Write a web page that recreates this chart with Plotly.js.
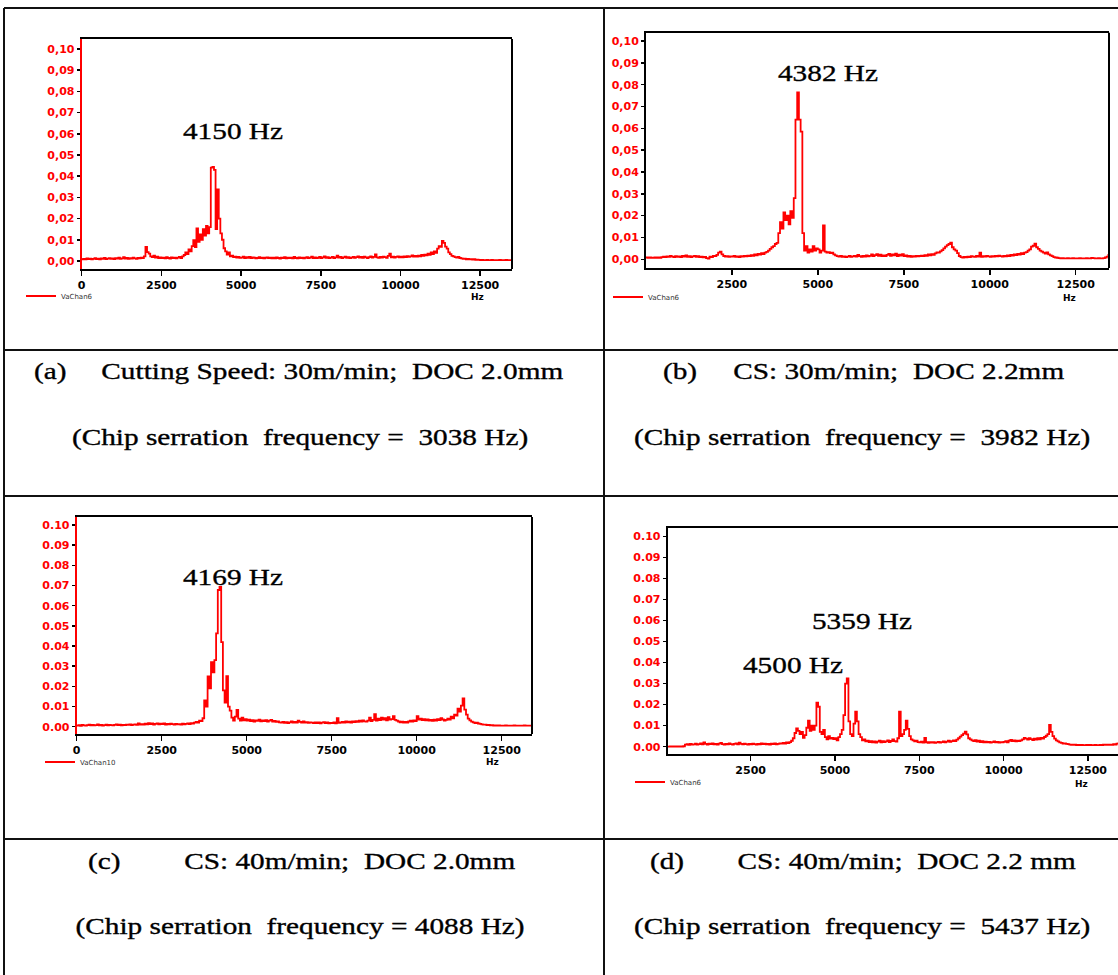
<!DOCTYPE html>
<html>
<head>
<meta charset="utf-8">
<script src="https://cdn.plot.ly/plotly-3.0.1.min.js"></script>
<style>
  html, body { margin: 0; padding: 0; background: #fff; overflow: hidden; }
  #fig { width: 1140px; height: 975px; }
</style>
</head>
<body>
<div id="fig"></div>
<script>
// ---- spectrum data: amplitude per 50 Hz bin, 0 ... 13500 Hz ----
const binHz = 50;

const ampA = [
  0.0008,0.0010,0.0007,0.0012,0.0009,0.0011,0.0008,0.0010,0.0013,0.0009,
  0.0011,0.0008,0.0012,0.0010,0.0014,0.0009,0.0011,0.0013,0.0010,0.0012,
  0.0009,0.0013,0.0011,0.0015,0.0010,0.0012,0.0018,0.0011,0.0014,0.0010,
  0.0013,0.0011,0.0016,0.0012,0.0010,0.0014,0.0012,0.0015,0.0013,0.0022,
  0.0066,0.0042,0.0035,0.0022,0.0018,0.0025,0.0016,0.0020,0.0014,0.0017,
  0.0013,0.0016,0.0012,0.0018,0.0014,0.0011,0.0017,0.0013,0.0015,0.0012,
  0.0016,0.0019,0.0014,0.0022,0.0028,0.0040,0.0032,0.0055,0.0045,0.0070,
  0.0098,0.0065,0.0153,0.0090,0.0125,0.0100,0.0150,0.0120,0.0165,0.0130,
  0.0160,0.0440,0.0444,0.0430,0.0150,0.0337,0.0200,0.0130,0.0100,0.0060,
  0.0045,0.0030,0.0040,0.0022,0.0025,0.0018,0.0020,0.0016,0.0019,0.0015,
  0.0016,0.0020,0.0014,0.0018,0.0015,0.0019,0.0013,0.0017,0.0015,0.0012,
  0.0014,0.0018,0.0013,0.0016,0.0012,0.0015,0.0017,0.0013,0.0016,0.0012,
  0.0015,0.0012,0.0017,0.0014,0.0011,0.0016,0.0013,0.0018,0.0012,0.0015,
  0.0013,0.0016,0.0012,0.0019,0.0014,0.0012,0.0017,0.0013,0.0016,0.0012,
  0.0015,0.0018,0.0013,0.0016,0.0020,0.0014,0.0017,0.0013,0.0015,0.0019,
  0.0014,0.0017,0.0021,0.0015,0.0018,0.0013,0.0016,0.0019,0.0014,0.0017,
  0.0025,0.0016,0.0019,0.0014,0.0017,0.0020,0.0015,0.0018,0.0014,0.0016,
  0.0019,0.0015,0.0018,0.0022,0.0016,0.0019,0.0015,0.0020,0.0017,0.0014,
  0.0018,0.0021,0.0016,0.0019,0.0031,0.0017,0.0015,0.0019,0.0016,0.0020,
  0.0018,0.0015,0.0024,0.0034,0.0017,0.0020,0.0016,0.0019,0.0022,0.0017,
  0.0020,0.0017,0.0021,0.0018,0.0023,0.0019,0.0022,0.0026,0.0020,0.0024,
  0.0021,0.0025,0.0022,0.0028,0.0024,0.0030,0.0026,0.0035,0.0029,0.0040,
  0.0032,0.0045,0.0038,0.0058,0.0070,0.0066,0.0094,0.0085,0.0068,0.0058,
  0.0040,0.0032,0.0024,0.0022,0.0018,0.0016,0.0019,0.0014,0.0012,0.0010,
  0.0011,0.0008,0.0010,0.0007,0.0009,0.0006,0.0008,0.0005,0.0006,0.0005,
  0.0004,0.0005,0.0004,0.0004,0.0005,0.0004,0.0004,0.0005,0.0004,0.0004,
  0.0004,0.0004,0.0005,0.0004,0.0004,0.0004,0.0005,0.0004,0.0004,0.0004,
  0.0004
];

const ampB = [
  0.0008,0.0007,0.0008,0.0006,0.0007,0.0008,0.0007,0.0009,0.0006,0.0010,
  0.0012,0.0010,0.0013,0.0011,0.0015,0.0012,0.0010,0.0014,0.0011,0.0013,
  0.0010,0.0015,0.0012,0.0018,0.0011,0.0014,0.0010,0.0013,0.0016,0.0011,
  0.0014,0.0010,0.0012,0.0009,0.0011,0.0005,0.0003,0.0012,0.0010,0.0015,
  0.0014,0.0020,0.0030,0.0035,0.0022,0.0015,0.0012,0.0014,0.0011,0.0013,
  0.0012,0.0015,0.0011,0.0013,0.0010,0.0014,0.0012,0.0016,0.0013,0.0017,
  0.0015,0.0019,0.0016,0.0022,0.0018,0.0025,0.0021,0.0028,0.0024,0.0030,
  0.0034,0.0040,0.0048,0.0055,0.0060,0.0070,0.0075,0.0120,0.0170,0.0140,
  0.0215,0.0180,0.0200,0.0160,0.0220,0.0190,0.0280,0.0640,0.0765,0.0640,
  0.0585,0.0120,0.0040,0.0060,0.0030,0.0045,0.0035,0.0060,0.0040,0.0050,
  0.0045,0.0030,0.0040,0.0155,0.0035,0.0030,0.0033,0.0028,0.0030,0.0022,
  0.0018,0.0014,0.0012,0.0015,0.0011,0.0013,0.0010,0.0012,0.0015,0.0011,
  0.0013,0.0016,0.0012,0.0020,0.0014,0.0011,0.0015,0.0012,0.0018,0.0013,
  0.0016,0.0022,0.0015,0.0019,0.0024,0.0016,0.0021,0.0015,0.0018,0.0014,
  0.0020,0.0025,0.0016,0.0022,0.0018,0.0026,0.0015,0.0021,0.0017,0.0023,
  0.0014,0.0018,0.0012,0.0015,0.0011,0.0014,0.0012,0.0016,0.0013,0.0015,
  0.0017,0.0014,0.0019,0.0016,0.0022,0.0018,0.0024,0.0020,0.0027,0.0032,
  0.0030,0.0036,0.0042,0.0050,0.0058,0.0065,0.0070,0.0076,0.0055,0.0045,
  0.0040,0.0028,0.0015,0.0010,0.0008,0.0011,0.0009,0.0012,0.0010,0.0014,
  0.0012,0.0011,0.0015,0.0012,0.0030,0.0011,0.0014,0.0012,0.0015,0.0013,
  0.0011,0.0014,0.0012,0.0016,0.0013,0.0017,0.0014,0.0012,0.0016,0.0013,
  0.0018,0.0015,0.0020,0.0017,0.0022,0.0019,0.0025,0.0021,0.0028,0.0024,
  0.0030,0.0033,0.0040,0.0045,0.0058,0.0062,0.0072,0.0055,0.0048,0.0040,
  0.0035,0.0030,0.0026,0.0032,0.0022,0.0018,0.0014,0.0010,0.0008,0.0007,
  0.0005,0.0004,0.0005,0.0004,0.0004,0.0005,0.0004,0.0004,0.0005,0.0004,
  0.0004,0.0004,0.0005,0.0004,0.0004,0.0004,0.0005,0.0004,0.0004,0.0006,
  0.0005,0.0004,0.0004,0.0005,0.0004,0.0004,0.0005,0.0008,0.0012,0.0020,
  0.0018
];

const ampC = [
  0.0006,0.0008,0.0005,0.0009,0.0007,0.0006,0.0008,0.0010,0.0007,0.0009,
  0.0007,0.0008,0.0011,0.0007,0.0009,0.0006,0.0008,0.0010,0.0007,0.0009,
  0.0008,0.0007,0.0009,0.0012,0.0008,0.0010,0.0007,0.0009,0.0008,0.0010,
  0.0009,0.0011,0.0008,0.0010,0.0012,0.0009,0.0016,0.0011,0.0013,0.0010,
  0.0015,0.0012,0.0018,0.0013,0.0016,0.0011,0.0014,0.0017,0.0012,0.0015,
  0.0013,0.0016,0.0011,0.0014,0.0012,0.0015,0.0013,0.0011,0.0014,0.0012,
  0.0013,0.0011,0.0015,0.0012,0.0014,0.0016,0.0013,0.0018,0.0015,0.0020,
  0.0024,0.0020,0.0030,0.0028,0.0042,0.0130,0.0100,0.0250,0.0190,0.0320,
  0.0270,0.0330,0.0463,0.0678,0.0694,0.0420,0.0180,0.0120,0.0251,0.0100,
  0.0080,0.0045,0.0030,0.0050,0.0083,0.0040,0.0030,0.0045,0.0032,0.0038,
  0.0030,0.0035,0.0028,0.0033,0.0026,0.0032,0.0029,0.0035,0.0027,0.0031,
  0.0028,0.0033,0.0025,0.0030,0.0034,0.0026,0.0029,0.0024,0.0027,0.0022,
  0.0020,0.0024,0.0019,0.0023,0.0018,0.0022,0.0026,0.0020,0.0024,0.0021,
  0.0030,0.0024,0.0021,0.0026,0.0020,0.0023,0.0019,0.0022,0.0020,0.0018,
  0.0021,0.0018,0.0022,0.0017,0.0020,0.0023,0.0018,0.0021,0.0017,0.0019,
  0.0018,0.0022,0.0017,0.0042,0.0019,0.0021,0.0024,0.0020,0.0026,0.0022,
  0.0025,0.0021,0.0027,0.0023,0.0028,0.0024,0.0030,0.0026,0.0032,0.0027,
  0.0025,0.0030,0.0045,0.0028,0.0034,0.0062,0.0030,0.0040,0.0033,0.0045,
  0.0036,0.0042,0.0032,0.0048,0.0035,0.0038,0.0052,0.0034,0.0030,0.0026,
  0.0022,0.0025,0.0020,0.0024,0.0021,0.0026,0.0030,0.0025,0.0032,0.0028,
  0.0053,0.0035,0.0040,0.0033,0.0038,0.0032,0.0036,0.0030,0.0034,0.0029,
  0.0035,0.0031,0.0038,0.0033,0.0042,0.0036,0.0030,0.0034,0.0040,0.0036,
  0.0050,0.0042,0.0060,0.0055,0.0090,0.0075,0.0105,0.0140,0.0085,0.0060,
  0.0040,0.0032,0.0025,0.0022,0.0018,0.0020,0.0016,0.0014,0.0012,0.0010,
  0.0010,0.0008,0.0009,0.0007,0.0008,0.0006,0.0007,0.0006,0.0007,0.0006,
  0.0006,0.0006,0.0007,0.0006,0.0006,0.0006,0.0006,0.0007,0.0006,0.0006,
  0.0006,0.0006,0.0006,0.0007,0.0006,0.0006,0.0006,0.0006,0.0007,0.0006,
  0.0006
];

const ampD = [
  0.0000,0.0000,0.0001,0.0000,0.0001,0.0000,0.0001,0.0000,0.0001,0.0000,
  0.0002,0.0010,0.0012,0.0009,0.0013,0.0010,0.0011,0.0014,0.0010,0.0012,
  0.0015,0.0011,0.0020,0.0013,0.0010,0.0014,0.0012,0.0016,0.0011,0.0013,
  0.0010,0.0014,0.0018,0.0012,0.0010,0.0013,0.0011,0.0015,0.0012,0.0010,
  0.0013,0.0016,0.0011,0.0019,0.0013,0.0011,0.0014,0.0012,0.0010,0.0013,
  0.0011,0.0014,0.0012,0.0010,0.0013,0.0011,0.0015,0.0012,0.0014,0.0011,
  0.0013,0.0010,0.0014,0.0012,0.0015,0.0011,0.0013,0.0016,0.0014,0.0018,
  0.0015,0.0020,0.0017,0.0022,0.0028,0.0040,0.0065,0.0087,0.0075,0.0060,
  0.0070,0.0042,0.0055,0.0090,0.0124,0.0075,0.0100,0.0080,0.0100,0.0210,
  0.0190,0.0070,0.0060,0.0080,0.0045,0.0035,0.0050,0.0038,0.0042,0.0036,
  0.0040,0.0030,0.0045,0.0060,0.0080,0.0150,0.0300,0.0325,0.0120,0.0060,
  0.0050,0.0110,0.0167,0.0120,0.0060,0.0045,0.0030,0.0035,0.0025,0.0028,
  0.0022,0.0026,0.0020,0.0025,0.0019,0.0024,0.0028,0.0021,0.0026,0.0022,
  0.0025,0.0030,0.0022,0.0027,0.0035,0.0026,0.0024,0.0040,0.0167,0.0050,
  0.0060,0.0080,0.0124,0.0085,0.0050,0.0035,0.0030,0.0025,0.0028,0.0022,
  0.0020,0.0024,0.0019,0.0042,0.0021,0.0018,0.0022,0.0019,0.0021,0.0018,
  0.0020,0.0023,0.0019,0.0022,0.0025,0.0021,0.0024,0.0028,0.0023,0.0026,
  0.0030,0.0026,0.0033,0.0040,0.0048,0.0055,0.0062,0.0071,0.0058,0.0040,
  0.0035,0.0030,0.0026,0.0031,0.0024,0.0028,0.0022,0.0026,0.0021,0.0024,
  0.0020,0.0023,0.0019,0.0022,0.0025,0.0020,0.0023,0.0019,0.0022,0.0020,
  0.0023,0.0026,0.0021,0.0028,0.0032,0.0027,0.0030,0.0025,0.0029,0.0026,
  0.0030,0.0035,0.0042,0.0038,0.0033,0.0040,0.0036,0.0031,0.0038,0.0034,
  0.0040,0.0035,0.0042,0.0038,0.0046,0.0052,0.0060,0.0103,0.0070,0.0050,
  0.0038,0.0030,0.0025,0.0020,0.0018,0.0015,0.0016,0.0013,0.0012,0.0010,
  0.0009,0.0008,0.0009,0.0007,0.0008,0.0007,0.0008,0.0007,0.0007,0.0008,
  0.0007,0.0008,0.0007,0.0007,0.0008,0.0007,0.0007,0.0008,0.0007,0.0009,
  0.0008,0.0009,0.0008,0.0010,0.0009,0.0012,0.0010,0.0014,0.0016,0.0018,
  0.0020
];

// ---- tick labels ----
const yTickVals = [0, 0.01, 0.02, 0.03, 0.04, 0.05, 0.06, 0.07, 0.08, 0.09, 0.10];
const yTickComma = ['0,00','0,01','0,02','0,03','0,04','0,05','0,06','0,07','0,08','0,09','0,10'];
const yTickDot = ['0.00','0.01','0.02','0.03','0.04','0.05','0.06','0.07','0.08','0.09','0.10'];
const xTickVals = [0, 2500, 5000, 7500, 10000, 12500];
const xTickText = ['0', '2500', '5000', '7500', '10000', '12500'];

// ---- texts ----
const seriesNames = ['VaChan6', 'VaChan6', 'VaChan10', 'VaChan6'];
const peakLabels = [['4150 Hz'], ['4382 Hz'], ['4169 Hz'], ['5359 Hz', '4500 Hz']];
const panelTags = ['(a)', '(b)', '(c)', '(d)'];
const conditions = [
  'Cutting Speed: 30m/min;\u00a0 DOC 2.0mm',
  'CS: 30m/min;\u00a0 DOC 2.2mm',
  'CS: 40m/min;\u00a0 DOC 2.0mm',
  'CS: 40m/min;\u00a0 DOC 2.2 mm'
];
const serrationHz = ['3038', '3982', '4088', '5437'];
const serrationSep = [' =\u00a0 ', ' =\u00a0 ', ' = ', ' =\u00a0 '];

// ---- page geometry (pixels) ----
const W = 1140, H = 975;
const px = x => x / W;
const py = y => 1 - y / H;

const panels = [
  { xDom: [81.7, 512], yTop: 39, yBot: 269, xRange: [0, 13500], yRange: [-0.0038, 0.1047],
    yLine: '#ff0000', zeroTick: true, comma: true, leg: [21, 296], hz: [477, 297],
    peaks: [[233, 131]] },
  { xDom: [646, 1109], yTop: 32.7, yBot: 268, xRange: [3, 13468], yRange: [-0.004, 0.1038],
    yLine: '#000000', zeroTick: false, comma: true, leg: [608, 297], hz: [1069, 298],
    peaks: [[828, 73]] },
  { xDom: [76.7, 532], yTop: 517, yBot: 734, xRange: [0, 13391], yRange: [-0.0036, 0.104],
    yLine: '#ff0000', zeroTick: true, comma: false, leg: [40, 762], hz: [492, 762],
    peaks: [[233, 577]] },
  { xDom: [667.7, 1121.6], yTop: 528, yBot: 754, xRange: [40, 13500], yRange: [-0.0035, 0.1041],
    yLine: '#000000', zeroTick: false, comma: false, leg: [630, 782], hz: [1081, 784],
    peaks: [[862, 621], [793, 665]] }
];

// caption placement: [tag x, condition x, serration x], line y's per row
const captionX = [[50.5, 332.5, 300], [680, 898.5, 862], [104.5, 350, 300], [667, 907, 862]];
const captionY = [[371, 437], [371, 437], [861, 926], [861, 926]];

const tickFontBase = { family: 'DejaVu Sans', size: 11, weight: 'bold' };
const serif = { family: 'Liberation Serif', size: 24, color: '#000000' };

const traces = [];
const layout = {
  width: W, height: H,
  margin: { l: 0, r: 0, t: 0, b: 0 },
  paper_bgcolor: '#ffffff', plot_bgcolor: '#ffffff',
  showlegend: true,
  shapes: [], annotations: []
};

// centred text placed at a page pixel position
const label = (x, y, text, font) => ({
  xref: 'paper', yref: 'paper', x: px(x), y: py(y),
  xanchor: 'center', yanchor: 'middle', text: text, showarrow: false, font: font
});

const amps = [ampA, ampB, ampC, ampD];

panels.forEach((p, i) => {
  const n = i === 0 ? '' : String(i + 1);
  const amp = amps[i];
  const freq = amp.map((_, k) => k * binHz);
  const legendId = 'legend' + n;

  traces.push({
    x: freq, y: amp, type: 'scatter', mode: 'lines',
    name: seriesNames[i], legend: legendId, showlegend: true,
    xaxis: 'x' + n, yaxis: 'y' + n,
    line: { color: '#ff0000', width: 1.8, shape: 'hv' }
  });

  const xv = p.zeroTick ? xTickVals : xTickVals.slice(1);
  const xt = p.zeroTick ? xTickText : xTickText.slice(1);

  layout['xaxis' + n] = {
    domain: [px(p.xDom[0]), px(p.xDom[1])], range: p.xRange, anchor: 'y' + n,
    showline: true, linecolor: '#000', linewidth: 2, mirror: true,
    ticks: 'outside', ticklen: 5, tickwidth: 1.5, tickcolor: '#000',
    tickvals: xv, ticktext: xt,
    tickfont: Object.assign({ color: '#000' }, tickFontBase),
    showgrid: false, zeroline: false, fixedrange: true
  };
  layout['yaxis' + n] = {
    domain: [py(p.yBot), py(p.yTop)], range: p.yRange, anchor: 'x' + n,
    showline: true, linecolor: p.yLine, linewidth: 2, mirror: false,
    ticks: 'outside', ticklen: 3, tickwidth: 1.5, tickcolor: '#000',
    tickvals: yTickVals, ticktext: p.comma ? yTickComma : yTickDot,
    tickfont: Object.assign({ color: '#ff0000' }, tickFontBase),
    showgrid: false, zeroline: false, fixedrange: true
  };

  // right edge of the plot frame
  layout.shapes.push({
    type: 'line', xref: 'x' + n + ' domain', yref: 'y' + n + ' domain',
    x0: 1, x1: 1, y0: 0, y1: 1, line: { color: '#000', width: 2 }
  });

  layout[legendId] = {
    x: px(p.leg[0]), y: py(p.leg[1]), xanchor: 'left', yanchor: 'middle',
    bgcolor: 'rgba(0,0,0,0)', borderwidth: 0,
    font: { family: 'DejaVu Sans', size: 7, color: '#333' }
  };

  layout.annotations.push(label(p.hz[0], p.hz[1], 'Hz',
    { family: 'DejaVu Sans', size: 9, color: '#000', weight: 'bold' }));

  p.peaks.forEach((pos, j) => {
    layout.annotations.push(label(pos[0], pos[1], peakLabels[i][j], serif));
  });

  // caption cell text
  const cx = captionX[i], cy = captionY[i];
  layout.annotations.push(
    label(cx[0], cy[0], panelTags[i], serif),
    label(cx[1], cy[0], conditions[i], serif),
    label(cx[2], cy[1], '(Chip serration\u00a0 frequency' + serrationSep[i] + serrationHz[i] + ' Hz)', serif)
  );
});

// table rules
const rules = [
  [4, 8, 1140, 8],
  [4, 8, 4, 975],
  [604, 8, 604, 975],
  [4, 350, 1140, 350],
  [4, 496, 1140, 496],
  [4, 839, 1140, 839]
];
rules.forEach(r => layout.shapes.push({
  type: 'line', xref: 'paper', yref: 'paper',
  x0: px(r[0]), y0: py(r[1]), x1: px(r[2]), y1: py(r[3]),
  line: { color: '#111', width: 2 }
}));

// the serif labels are set a little wide and heavy, like the printed table:
// stretch each one about its own centre
const serifWiden = 1.22;
Plotly.newPlot('fig', traces, layout, { staticPlot: true, displayModeBar: false }).then(gd => {
  gd.querySelectorAll('.annotation-text').forEach(t => {
    if (!/Serif/.test(t.style.fontFamily)) return;
    const b = t.getBBox();
    const c = b.x + b.width / 2;
    const prev = t.getAttribute('transform') || '';
    t.setAttribute('transform', prev + ' translate(' + c + ',0) scale(' + serifWiden + ',1) translate(' + (-c) + ',0)');
    t.style.stroke = '#000';
    t.style.strokeWidth = '0.35px';
  });
});
</script>
</body>
</html>
